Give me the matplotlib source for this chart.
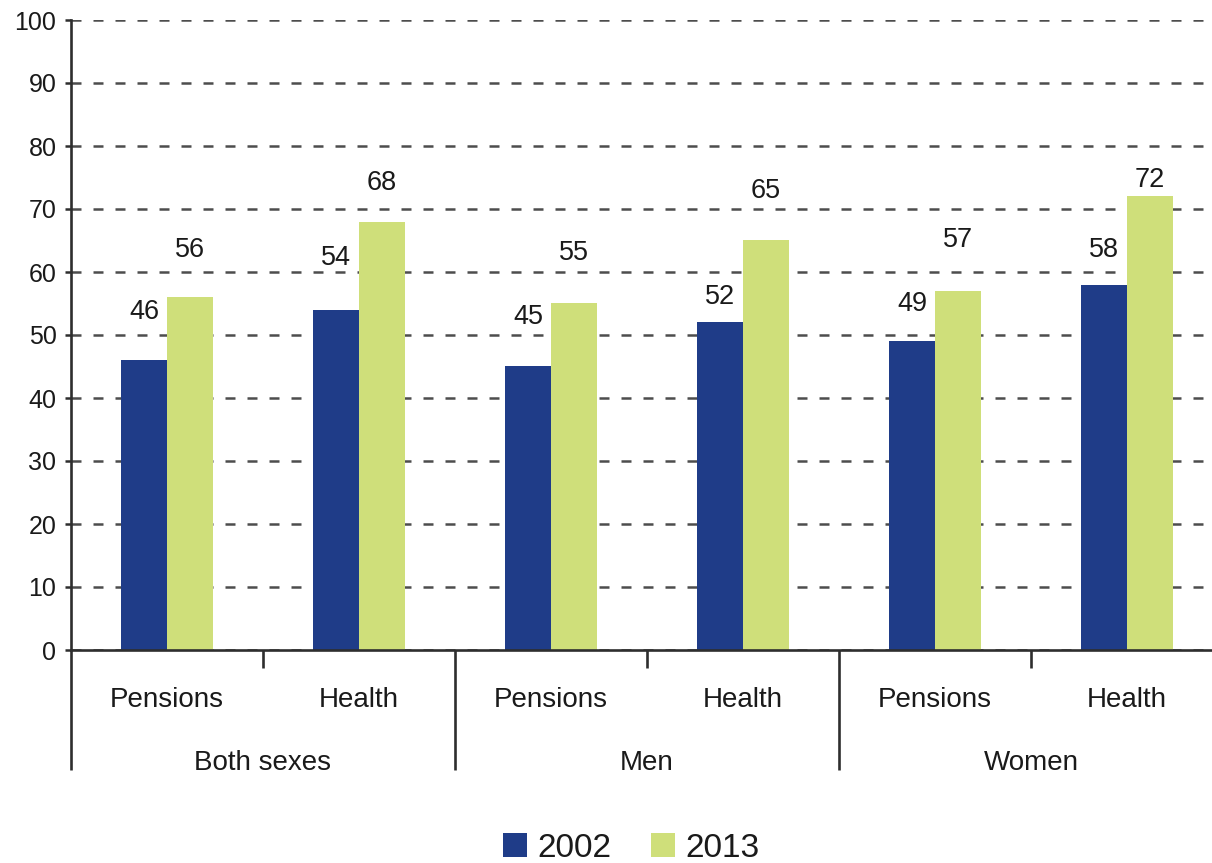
import matplotlib
matplotlib.use("Agg")
import matplotlib.pyplot as plt
from matplotlib.patches import Patch
from matplotlib.transforms import blended_transform_factory
import numpy as np

plt.rcParams['font.family'] = ['Liberation Sans', 'DejaVu Sans']

# Data
groups = ["Both sexes", "Men", "Women"]
categories = ["Pensions", "Health", "Pensions", "Health", "Pensions", "Health"]
years = ["2002", "2013"]
values_2002 = [46, 54, 45, 52, 49, 58]
values_2013 = [56, 68, 55, 65, 57, 72]

# Vertical offsets (points) of the value labels above their bars
offsets_2002 = [35, 37, 36, 18, 27, 25]
offsets_2013 = [34, 28, 36, 36, 37, 12]

col_2002 = "#1f3c88"
col_2013 = "#cfdf7a"
text_col = "#1a1a1a"
axis_col = "#2e2e2e"

W, H = 1212, 863
fig = plt.figure(figsize=(W / 100, H / 100), dpi=100)
ax = fig.add_axes([71 / W, 213 / H, 1152 / W, 630 / H])

x = np.arange(len(categories))
bw = 0.24
ax.bar(x - bw / 2, values_2002, bw, color=col_2002, zorder=3)
ax.bar(x + bw / 2, values_2013, bw, color=col_2013, zorder=3)

for xi, v, off in zip(x, values_2002, offsets_2002):
    ax.annotate(str(v), (xi - bw / 2, v), xytext=(0, off), textcoords="offset points",
                ha="center", va="center", fontsize=19.5, color=text_col)
for xi, v, off in zip(x, values_2013, offsets_2013):
    ax.annotate(str(v), (xi + bw / 2, v), xytext=(0, off), textcoords="offset points",
                ha="center", va="center", fontsize=19.5, color=text_col)

ax.set_xlim(-0.5, len(categories) - 0.5)
ax.set_ylim(0, 100)
ax.set_yticks(np.arange(0, 101, 10))
ax.tick_params(axis="y", labelsize=18, colors=axis_col, labelcolor=text_col,
               length=4.5, width=1.8, pad=6)
ax.set_xticks([])

ax.yaxis.grid(True, linestyle=(0, (4, 4.8)), color="#4d4d4d", linewidth=1.8)
ax.set_axisbelow(True)

for s in ["top", "right"]:
    ax.spines[s].set_visible(False)
ax.spines["left"].set_color(axis_col)
ax.spines["left"].set_linewidth(1.9)
ax.spines["bottom"].set_color(axis_col)
ax.spines["bottom"].set_linewidth(1.9)
ax.spines["bottom"].set_zorder(4)

# Hierarchical category axis below the plot
trans = blended_transform_factory(ax.transData, ax.transAxes)
ax_h = 630.0
long_drop = -120 / ax_h
short_drop = -18 / ax_h
n_per_group = 2
for i in range(len(categories) + 1):
    xb = i - 0.5
    drop = long_drop if i % n_per_group == 0 else short_drop
    ax.plot([xb, xb], [0, drop], transform=trans, color=axis_col,
            lw=1.9, clip_on=False, solid_capstyle="butt")

for xi, lab in zip(x, categories):
    ax.text(xi, -50 / ax_h, lab, transform=trans, ha="center", va="center",
            fontsize=20, color=text_col)
for gi, g in enumerate(groups):
    xc = gi * n_per_group + (n_per_group - 1) / 2
    ax.text(xc, -113 / ax_h, g, transform=trans, ha="center", va="center",
            fontsize=20, color=text_col)

handles = [Patch(facecolor=col_2002), Patch(facecolor=col_2013)]
fig.legend(handles, years, loc="center", bbox_to_anchor=(631 / W, 1 - 848 / H),
           ncol=2, frameon=False, fontsize=24, handlelength=0.72, handleheight=0.72,
           handletextpad=0.3, columnspacing=1.2, labelcolor=text_col)

fig.savefig("out.png", dpi=100, facecolor="white")
